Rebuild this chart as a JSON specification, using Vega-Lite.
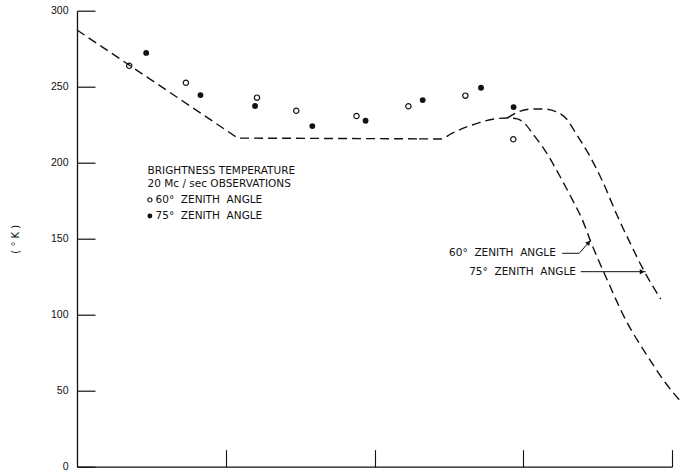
{
  "$schema": "https://vega.github.io/schema/vega-lite/v6.json",
  "autosize": {"type": "none"},
  "padding": {"left": 77, "top": 10.7, "right": 11, "bottom": 4.3},
  "width": 595,
  "height": 456,
  "background": "white",
  "config": {
    "view": {"stroke": null},
    "axis": {"domainColor": "#111", "domainWidth": 1.3, "tickColor": "#111", "tickWidth": 1.1, "grid": false, "labelColor": "#111", "labelFont": "Liberation Sans", "labelFontSize": 10.5, "titleColor": "#111"}
  },
  "resolve": {"axis": {"x": "independent"}},
  "datasets": {
    "curveA": [
      {"x": 0, "y": 287.3}, {"x": 1.081, "y": 216.2}, {"x": 2.3, "y": 215.7}
    ],
    "curveB": [
      {"seg": "60", "x": 2.3, "y": 215.7}, {"seg": "60", "x": 2.448, "y": 215.6}, {"seg": "60", "x": 2.517, "y": 219.2}, {"seg": "60", "x": 2.611, "y": 223.2}, {"seg": "60", "x": 2.705, "y": 226.4}, {"seg": "60", "x": 2.805, "y": 228.8}, {"seg": "60", "x": 2.893, "y": 229.4}, {"seg": "60", "x": 2.96, "y": 228.8}, {"seg": "60", "x": 3.013, "y": 225.5}, {"seg": "60", "x": 3.062, "y": 219.3}, {"seg": "60", "x": 3.152, "y": 207.2}, {"seg": "60", "x": 3.242, "y": 191.9}, {"seg": "60", "x": 3.331, "y": 175.5}, {"seg": "60", "x": 3.398, "y": 162.3}, {"seg": "60", "x": 3.454, "y": 148.0}, {"seg": "60", "x": 3.555, "y": 125.0}, {"seg": "60", "x": 3.689, "y": 96.5}, {"seg": "60", "x": 3.823, "y": 74.6}, {"seg": "60", "x": 3.958, "y": 54.9}, {"seg": "60", "x": 4.069, "y": 41.7},
      {"seg": "75", "x": 2.893, "y": 229.4}, {"seg": "75", "x": 2.973, "y": 233.6}, {"seg": "75", "x": 3.062, "y": 235.3}, {"seg": "75", "x": 3.141, "y": 235.3}, {"seg": "75", "x": 3.219, "y": 233.6}, {"seg": "75", "x": 3.287, "y": 229.2}, {"seg": "75", "x": 3.354, "y": 219.3}, {"seg": "75", "x": 3.443, "y": 205.1}, {"seg": "75", "x": 3.532, "y": 188.0}, {"seg": "75", "x": 3.633, "y": 164.9}, {"seg": "75", "x": 3.725, "y": 145.9}, {"seg": "75", "x": 3.812, "y": 128.8}, {"seg": "75", "x": 3.924, "y": 110.3}
    ],
    "obs": [
      {"zenith": "60", "x": 0.351, "y": 263.8}, {"zenith": "60", "x": 0.732, "y": 252.6}, {"zenith": "60", "x": 1.21, "y": 242.8}, {"zenith": "60", "x": 1.474, "y": 234.2}, {"zenith": "60", "x": 1.879, "y": 230.7}, {"zenith": "60", "x": 2.228, "y": 237.1}, {"zenith": "60", "x": 2.611, "y": 244.1}, {"zenith": "60", "x": 2.933, "y": 215.4},
      {"zenith": "75", "x": 0.465, "y": 272.2}, {"zenith": "75", "x": 0.83, "y": 244.5}, {"zenith": "75", "x": 1.197, "y": 237.3}, {"zenith": "75", "x": 1.582, "y": 224.1}, {"zenith": "75", "x": 1.94, "y": 227.6}, {"zenith": "75", "x": 2.324, "y": 241.2}, {"zenith": "75", "x": 2.716, "y": 249.3}, {"zenith": "75", "x": 2.935, "y": 236.6}
    ],
    "legendSym": [
      {"zenith": "60", "x": 0.49, "y": 175.5}, {"zenith": "75", "x": 0.49, "y": 164.9}
    ],
    "legendText": [
      {"x": 0.4745, "y": 194.5, "text": "BRIGHTNESS TEMPERATURE"},
      {"x": 0.4745, "y": 186.3, "text": "20 Mc / sec OBSERVATIONS"},
      {"x": 0.528, "y": 175.5, "text": "60°\u00a0 ZENITH\u00a0 ANGLE"},
      {"x": 0.528, "y": 164.9, "text": "75°\u00a0 ZENITH\u00a0 ANGLE"}
    ],
    "annotText": [
      {"x": 3.219, "y": 140.4, "text": "60°\u00a0 ZENITH\u00a0 ANGLE"},
      {"x": 3.354, "y": 128.3, "text": "75°\u00a0 ZENITH\u00a0 ANGLE"}
    ],
    "leaders": [
      {"id": "60", "x": 3.262, "y": 140.4}, {"id": "60", "x": 3.376, "y": 140.4}, {"id": "60", "x": 3.454, "y": 149.1},
      {"id": "75", "x": 3.387, "y": 128.3}, {"id": "75", "x": 3.823, "y": 128.3}
    ],
    "heads": [
      {"id": "60", "x": 3.44, "y": 147.5},
      {"id": "75", "x": 3.799, "y": 128.3}
    ]
  },
  "encoding": {
    "x": {"field": "x", "type": "quantitative", "scale": {"domain": [0, 4], "nice": false, "zero": false}, "axis": null},
    "y": {"field": "y", "type": "quantitative", "scale": {"domain": [0, 300], "nice": false},
      "axis": {"orient": "left", "values": [0, 50, 100, 150, 200, 250, 300], "ticks": false, "labelPadding": 9, "grid": true, "gridColor": "#111", "gridOpacity": 1, "gridWidth": 1.2, "gridDash": [18, 700], "title": "( ° K )", "titleX": -62, "titleY": 228, "titleAlign": "center", "titleBaseline": "middle", "titleFont": "DejaVu Sans", "titleFontSize": 10, "titleFontWeight": "normal"}}
  },
  "layer": [
    {"data": {"name": "curveA"}, "mark": {"type": "line", "interpolate": "linear", "color": "#111", "strokeWidth": 1.4, "strokeDash": [9, 5], "clip": false},
      "encoding": {
        "x": {"field": "x", "type": "quantitative", "scale": {"domain": [0, 4], "nice": false, "zero": false},
          "axis": {"orient": "bottom", "values": [1, 2, 3, 4], "labels": false, "ticks": false, "title": null}}
      }},
    {"data": {"name": "curveB"}, "mark": {"type": "line", "interpolate": "monotone", "color": "#111", "strokeWidth": 1.4, "strokeDash": [9, 5], "clip": false},
      "encoding": {
        "detail": {"field": "seg"},
        "x": {"field": "x", "type": "quantitative", "scale": {"domain": [0, 4], "nice": false, "zero": false},
          "axis": {"orient": "top", "offset": -456, "values": [1, 2, 3, 4], "labels": false, "domain": false, "ticks": true, "tickSize": 17, "title": null}}
      }},
    {"data": {"name": "leaders"}, "mark": {"type": "line", "color": "#111", "strokeWidth": 1}, "encoding": {"detail": {"field": "id"}}},
    {"data": {"name": "heads"}, "transform": [{"filter": "datum.id == '60'"}], "mark": {"type": "point", "shape": "triangle-right", "filled": true, "color": "#111", "size": 30, "angle": 311, "opacity": 1}},
    {"data": {"name": "heads"}, "transform": [{"filter": "datum.id == '75'"}], "mark": {"type": "point", "shape": "triangle-right", "filled": true, "color": "#111", "size": 30, "opacity": 1}},
    {"data": {"name": "obs"}, "transform": [{"filter": "datum.zenith == '60'"}], "mark": {"type": "point", "shape": "circle", "filled": false, "color": "#111", "strokeWidth": 1.2, "size": 28, "opacity": 1}},
    {"data": {"name": "obs"}, "transform": [{"filter": "datum.zenith == '75'"}], "mark": {"type": "point", "shape": "circle", "filled": true, "color": "#111", "size": 34, "opacity": 1}},
    {"data": {"name": "legendSym"}, "transform": [{"filter": "datum.zenith == '60'"}], "mark": {"type": "point", "shape": "circle", "filled": false, "color": "#111", "strokeWidth": 1.1, "size": 18, "opacity": 1}},
    {"data": {"name": "legendSym"}, "transform": [{"filter": "datum.zenith == '75'"}], "mark": {"type": "point", "shape": "circle", "filled": true, "color": "#111", "size": 24, "opacity": 1}},
    {"data": {"name": "legendText"}, "mark": {"type": "text", "align": "left", "baseline": "middle", "font": "DejaVu Sans", "fontSize": 10.5, "color": "#111"}, "encoding": {"text": {"field": "text"}}},
    {"data": {"name": "annotText"}, "mark": {"type": "text", "align": "right", "baseline": "middle", "font": "DejaVu Sans", "fontSize": 10.5, "color": "#111"}, "encoding": {"text": {"field": "text"}}}
  ]
}
